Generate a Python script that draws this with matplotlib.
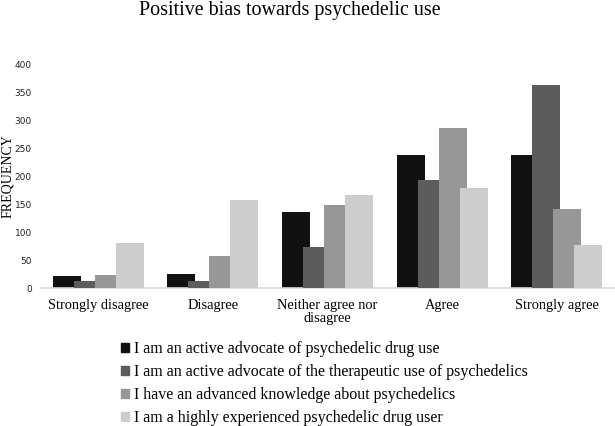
import matplotlib
matplotlib.use("Agg")
import matplotlib.pyplot as plt
import matplotlib.patches as mpatches
import numpy as np

# ---------------------------------------------------------------------------
# Data (frequencies)
# ---------------------------------------------------------------------------
categories = ["Strongly disagree", "Disagree", "Neither agree nor\ndisagree",
              "Agree", "Strongly agree"]

series_labels = [
    "I am an active advocate of psychedelic drug use",
    "I am an active advocate of the therapeutic use of psychedelics",
    "I have an advanced knowledge about psychedelics",
    "I am a highly experienced psychedelic drug user",
]

advocate_use = [21, 26, 136, 239, 239]
advocate_therapeutic = [12, 12, 74, 194, 365]
advanced_knowledge = [23, 57, 148, 287, 142]
experienced_user = [81, 157, 166, 179, 77]

series_values = [advocate_use, advocate_therapeutic, advanced_knowledge, experienced_user]
colours = ["#111111", "#5c5c5c", "#979797", "#cdcdcd"]

SERIF = "Liberation Serif"

# ---------------------------------------------------------------------------
# Figure
# ---------------------------------------------------------------------------
W, H = 615, 426
fig = plt.figure(figsize=(W / 100, H / 100), dpi=100)
ax = fig.add_axes([41 / W, (H - 288) / H, (614 - 41) / W, (288 - 65) / H])

x = np.arange(len(categories))
step = 0.183
width = 0.245
for j, (vals, col) in enumerate(zip(series_values, colours)):
    ax.bar(x + (j - 1.5) * step, vals, width=width, color=col,
           label=series_labels[j], zorder=2 + j, linewidth=0)

ax.set_xlim(-0.5, len(categories) - 0.5)
ax.set_ylim(0, 400)
ax.set_yticks(np.arange(0, 401, 50))
ax.set_xticks(x)
ax.set_xticklabels(categories, fontsize=10.4, family=SERIF, linespacing=1.0)
ax.tick_params(axis="x", length=0, pad=8)
ax.tick_params(axis="y", length=0, pad=6.5, labelsize=6.5, labelcolor="#222222")

for s in ["top", "right", "left"]:
    ax.spines[s].set_visible(False)
ax.spines["bottom"].set_color("#d9d9d9")
ax.spines["bottom"].set_linewidth(1.2)

# Title and axis label
fig.text(290 / W, 1 - 10 / H, "Positive bias towards psychedelic use",
         ha="center", va="center", fontsize=14.4, family=SERIF)
fig.text(8 / W, 1 - 176 / H, "FREQUENCY", rotation=90, ha="center", va="center",
         fontsize=10, family=SERIF)

# Legend
handles = [mpatches.Patch(color=c, label=l) for c, l in zip(colours, series_labels)]
fig.legend(handles=handles, loc="upper left",
           bbox_to_anchor=(121 / W, 1 - 341 / H), frameon=False,
           prop={"family": SERIF, "size": 11.5}, handlelength=0.5,
           handleheight=0.5, handletextpad=0.3, labelspacing=0.44,
           borderpad=0, borderaxespad=0)

fig.savefig("out.png", dpi=100)
